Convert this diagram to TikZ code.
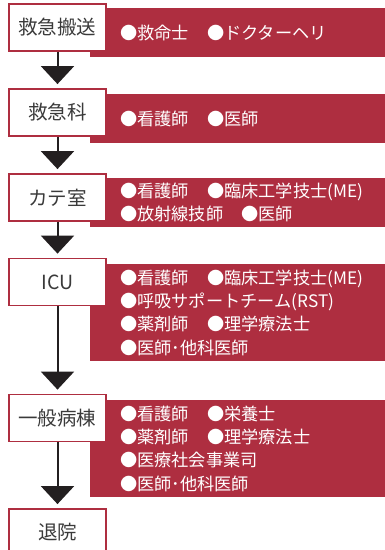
\documentclass[tikz,border=0pt]{standalone}
\usepackage{fontspec}
\setmainfont{Noto Sans CJK JP}
\usetikzlibrary{arrows.meta}
\usetikzlibrary{positioning}
\definecolor{bandred}{HTML}{AE2E40}
\definecolor{inkgray}{HTML}{3A3A3A}
\definecolor{arrowblack}{HTML}{231F20}

\begin{document}
\begin{tikzpicture}[x=1pt,y=-1pt,
		stage/.style={rectangle,draw=bandred,line width=1.8pt,fill=white,minimum width=97pt,minimum height=47pt,inner sep=0pt,text=inkgray,font=\fontsize{19.5}{19.5}\selectfont},
		band/.style={rectangle,fill=bandred,inner sep=0pt,minimum width=295pt,anchor=north west},
		staff/.style={anchor=west,inner sep=0pt,align=left,text=white,font=\fontsize{17.2}{23.3}\selectfont},
		flow/.style={-{Triangle[length=18pt,width=33pt]},line width=2pt,draw=arrowblack,shorten >=4pt}]
				\useasboundingbox (0,0) rectangle (385,550);
				\clip (0,0) rectangle (385,550);
				% bands behind the boxes
				\path 
				(90,8) node(b1) [band,minimum height=49pt] {}
				(90,94) node(b2) [band,minimum height=49pt] {}
				(90,178) node(b3) [band,minimum height=49pt] {}
				(90,264) node(b4) [band,minimum height=97pt] {}
				(90,400) node(b5) [band,minimum height=97pt] {};
				\path 
				(57.5,27.5) node(s1) [stage] {救急搬送}
				(57.5,112.5) node(s2) [stage] {救急科}
				(57.5,197.5) node(s3) [stage] {カテ室}
				(57.5,282) node(s4) [stage] {ICU}
				(57.5,418) node(s5) [stage] {一般病棟}
				(57.5,532.5) node(s6) [stage] {退院};
				\path 
				node(t1) [staff,right=30pt of b1.west] {●救命士\hspace{1.05em}●ドクターヘリ}
				node(t2) [staff,right=30pt of b2.west] {●看護師\hspace{1.05em}●医師}
				node(t3) [staff,right=30pt of b3.west] {●看護師\hspace{1.05em}●臨床工学技士(ME)\\●放射線技師\hspace{1.05em}●医師}
				node(t4) [staff,right=30pt of b4.west] {●看護師\hspace{1.05em}●臨床工学技士(ME)\\●呼吸サポートチーム(RST)\\●薬剤師\hspace{1.05em}●理学療法士\\●医師･他科医師}
				node(t5) [staff,right=30pt of b5.west] {●看護師\hspace{1.05em}●栄養士\\●薬剤師\hspace{1.05em}●理学療法士\\●医療社会事業司\\●医師･他科医師};
				\draw   
				(s1) edge[flow] (s2)
				(s2) edge[flow] (s3)
				(s3) edge[flow] (s4)
				(s4) edge[flow] (s5)
				(s5) edge[flow] (s6);
			\end{tikzpicture}
\end{document}
